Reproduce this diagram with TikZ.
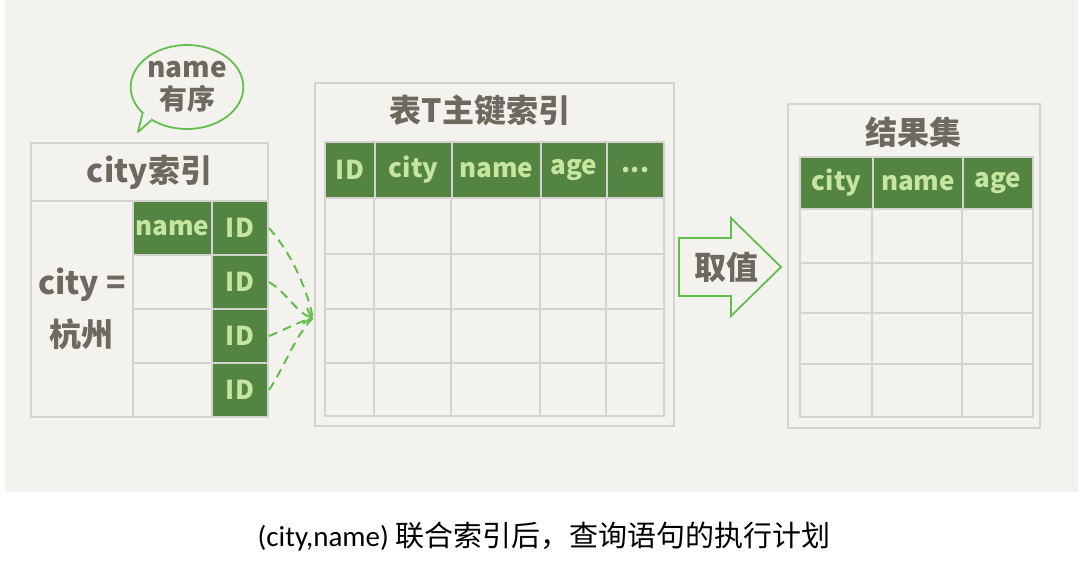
\documentclass[tikz,border=0pt]{standalone}
\usepackage{fontspec}
\setmainfont{Noto Sans CJK SC}
\newfontfamily\capfont{Carlito}
\usepackage{tikz}
\usetikzlibrary{arrows.meta, positioning, shapes.geometric}

\definecolor{paper}{HTML}{F3F2EE}
\definecolor{gridgray}{HTML}{D4D3CF}
\definecolor{hdgreen}{HTML}{548441}
\definecolor{hdtext}{HTML}{C6E59F}
\definecolor{ink}{HTML}{6D695E}
\definecolor{markgreen}{HTML}{63BF4C}

\newcommand\hdfont{\fontsize{26}{28}\bfseries\selectfont}
\newcommand\ttlfont{\fontsize{32}{34}\bfseries\selectfont}
\newcommand\bubfont{\fontsize{28}{32}\bfseries\selectfont}
\newcommand\capsize{\fontsize{29}{31}\selectfont}

\begin{document}
\begin{tikzpicture}[
  x=1pt, y=-1pt,
  frame/.style={draw=gridgray, line width=2pt, inner sep=0pt, anchor=north west},
  hcell/.style={frame, fill=hdgreen, text=hdtext, font=\hdfont},
  ttl/.style={text=ink, font=\ttlfont},
  grid/.style={draw=gridgray, line width=2pt},
  greenline/.style={draw=markgreen, line width=1.8pt},
  dasharr/.style={greenline, line width=2pt, dash pattern=on 9pt off 6pt}
]
\useasboundingbox (0,0) rectangle (1086,568);
\fill[white] (0,0) rectangle (1086,568);
\fill[paper] (5,0) rectangle (1078,492);

% city index
\node[frame, ttl, minimum width=237pt, minimum height=58pt] (cityhd) at (30,142) {city索引};
\node[frame, ttl, minimum width=102pt, minimum height=216pt, align=center] (citykey) at (30,200) {city =\\[16pt]杭州};

\node[hcell, minimum width=79pt, minimum height=54pt] (nm1) at (132,200) {name};
\node[frame, minimum width=79pt, minimum height=54pt] (nm2) at (132,254) {};
\node[frame, minimum width=79pt, minimum height=54pt] (nm3) at (132,308) {};
\node[frame, minimum width=79pt, minimum height=54pt] (nm4) at (132,362) {};

\node[hcell, minimum width=56pt, minimum height=54pt] (id1) at (211,200) {ID};
\node[hcell, minimum width=56pt, minimum height=54pt] (id2) at (211,254) {ID};
\node[hcell, minimum width=56pt, minimum height=54pt] (id3) at (211,308) {ID};
\node[hcell, minimum width=56pt, minimum height=54pt] (id4) at (211,362) {ID};

% speech bubble
\node[greenline, ellipse, text=ink, font=\bubfont, minimum width=112pt, minimum height=84pt, inner sep=0pt, align=center] (bubble) at (187,87) {name\\有序};
\coordinate (tailtip) at (138,132);
\fill[paper] (bubble.211) -- (tailtip) -- (bubble.223) -- (151,112) -- cycle;
\draw[greenline, line join=round] (bubble.211) -- (tailtip) -- (bubble.223);

% lookups into the primary key
\coordinate (hub) at (313,318);
\draw[dasharr] (id1.east) .. controls (290,252) and (306,285) .. (hub);
\draw[dasharr, -{Straight Barb[length=7pt, width=16pt]}] (id2.east) .. controls (286,292) and (298,314) .. (hub);
\draw[dasharr] (id3.east) .. controls (284,330) and (300,321) .. (hub);
\draw[dasharr] (id4.east) .. controls (285,366) and (296,334) .. (hub);

% primary key index of T
\node[frame, minimum width=359pt, minimum height=343pt] (pkbox) at (314,82) {};
\node[ttl] (pktitle) at (480,110) {表T主键索引};
\node[hcell, minimum width=50pt, minimum height=56pt] (pkid) at (324,141) {ID};
\node[hcell, minimum width=77pt, minimum height=56pt] (pkcity) at (374,141) {city};
\node[hcell, minimum width=89pt, minimum height=56pt] (pkname) at (451,141) {name};
\node[hcell, minimum width=66pt, minimum height=56pt] (pkage) at (540,141) {age};
\node[hcell, minimum width=57pt, minimum height=56pt] (pkmore) at (606,141) {...};
\node[frame, minimum width=339pt, minimum height=218pt] (pkbody) at (324,197) {};
\foreach \x in {374,451,540,606} \draw[grid] (\x,197) -- (\x,415);
\foreach \y in {254,309,363} \draw[grid] (324,\y) -- (663,\y);

% fetch arrow
\draw[greenline, line join=miter] (679,238) -- (731,238) -- (731,218) -- (781,267) -- (731,316) -- (731,296) -- (679,296) -- cycle;
\node[ttl] (fetch) at (726,267) {取值};

% result set
\node[frame, minimum width=252pt, minimum height=324pt] (resbox) at (787,103) {};
\node[ttl] (restitle) at (913,132) {结果集};
\node[hcell, minimum width=73pt, minimum height=52pt] (rescity) at (799,156) {city};
\node[hcell, minimum width=90pt, minimum height=52pt] (resname) at (872,156) {name};
\node[hcell, minimum width=70pt, minimum height=52pt] (resage) at (962,156) {age};
\node[frame, minimum width=233pt, minimum height=208pt] (resbody) at (799,208) {};
\foreach \x in {872,962} \draw[grid] (\x,208) -- (\x,416);
\foreach \y in {263,313,364} \draw[grid] (799,\y) -- (1032,\y);

% caption
\node[font=\capsize, text=black] (caption) at (544,537) {{\capfont (city,name)} 联合索引后，查询语句的执行计划};
\end{tikzpicture}
\end{document}
